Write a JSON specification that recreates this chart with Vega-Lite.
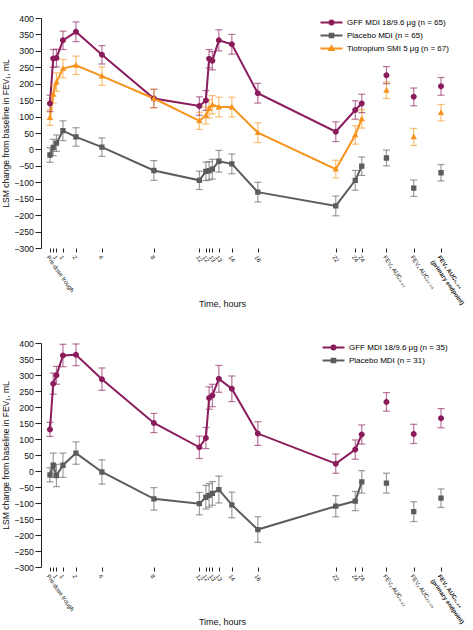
{
  "$schema": "https://vega.github.io/schema/vega-lite/v6.json",
  "padding": {"left": 1, "top": 14, "right": 0, "bottom": 0},
  "spacing": 95,
  "bounds": "flush",
  "config": {
    "view": {"stroke": null},
    "font": "Liberation Sans",
    "axis": {"labelFont": "Liberation Sans", "titleFont": "Liberation Sans", "labelColor": "#111", "titleColor": "#111", "domainColor": "#222", "tickColor": "#222", "grid": false, "titleFontWeight": "normal"},
    "legend": {"labelFont": "Liberation Sans"}
  },
  "resolve": {
    "scale": {"x": "independent", "y": "independent", "color": "independent", "shape": "independent"},
    "legend": {"color": "independent", "shape": "independent"}
  },
  "vconcat": [
    {
      "width": 403,
      "height": 230,
      "data": {"values": [
        {"g":"GFF","t":0,"v":140,"lo":115,"hi":165,"k":"time"},
        {"g":"GFF","t":0.25,"v":277,"lo":250,"hi":304,"k":"time"},
        {"g":"GFF","t":0.5,"v":278,"lo":251,"hi":305,"k":"time"},
        {"g":"GFF","t":1,"v":332,"lo":304,"hi":360,"k":"time"},
        {"g":"GFF","t":2,"v":358,"lo":328,"hi":388,"k":"time"},
        {"g":"GFF","t":4,"v":288,"lo":260,"hi":316,"k":"time"},
        {"g":"GFF","t":8,"v":155,"lo":127,"hi":183,"k":"time"},
        {"g":"GFF","t":11.5,"v":132,"lo":104,"hi":160,"k":"time"},
        {"g":"GFF","t":12,"v":149,"lo":119,"hi":179,"k":"time"},
        {"g":"GFF","t":12.25,"v":276,"lo":248,"hi":304,"k":"time"},
        {"g":"GFF","t":12.5,"v":270,"lo":242,"hi":298,"k":"time"},
        {"g":"GFF","t":13,"v":332,"lo":300,"hi":364,"k":"time"},
        {"g":"GFF","t":14,"v":320,"lo":290,"hi":350,"k":"time"},
        {"g":"GFF","t":16,"v":171,"lo":141,"hi":201,"k":"time"},
        {"g":"GFF","t":22,"v":54,"lo":24,"hi":84,"k":"time"},
        {"g":"GFF","t":23.5,"v":120,"lo":92,"hi":148,"k":"time"},
        {"g":"GFF","t":24,"v":140,"lo":112,"hi":168,"k":"time"},
        {"g":"GFF","t":25.9,"v":226,"lo":200,"hi":252,"k":"auc"},
        {"g":"GFF","t":28,"v":160,"lo":133,"hi":187,"k":"auc"},
        {"g":"GFF","t":30.1,"v":192,"lo":165,"hi":219,"k":"auc"},
        {"g":"Tiotropium","t":0,"v":97,"lo":73,"hi":121,"k":"time"},
        {"g":"Tiotropium","t":0.25,"v":168,"lo":141,"hi":195,"k":"time"},
        {"g":"Tiotropium","t":0.5,"v":205,"lo":177,"hi":233,"k":"time"},
        {"g":"Tiotropium","t":1,"v":246,"lo":218,"hi":274,"k":"time"},
        {"g":"Tiotropium","t":2,"v":256,"lo":228,"hi":284,"k":"time"},
        {"g":"Tiotropium","t":4,"v":223,"lo":195,"hi":251,"k":"time"},
        {"g":"Tiotropium","t":8,"v":155,"lo":127,"hi":183,"k":"time"},
        {"g":"Tiotropium","t":11.5,"v":87,"lo":61,"hi":113,"k":"time"},
        {"g":"Tiotropium","t":12,"v":103,"lo":77,"hi":129,"k":"time"},
        {"g":"Tiotropium","t":12.25,"v":124,"lo":96,"hi":152,"k":"time"},
        {"g":"Tiotropium","t":12.5,"v":136,"lo":108,"hi":164,"k":"time"},
        {"g":"Tiotropium","t":13,"v":129,"lo":99,"hi":159,"k":"time"},
        {"g":"Tiotropium","t":14,"v":129,"lo":99,"hi":159,"k":"time"},
        {"g":"Tiotropium","t":16,"v":51,"lo":21,"hi":81,"k":"time"},
        {"g":"Tiotropium","t":22,"v":-60,"lo":-87,"hi":-33,"k":"time"},
        {"g":"Tiotropium","t":23.5,"v":44,"lo":16,"hi":72,"k":"time"},
        {"g":"Tiotropium","t":24,"v":93,"lo":65,"hi":121,"k":"time"},
        {"g":"Tiotropium","t":25.9,"v":180,"lo":155,"hi":205,"k":"auc"},
        {"g":"Tiotropium","t":28,"v":38,"lo":12,"hi":64,"k":"auc"},
        {"g":"Tiotropium","t":30.1,"v":112,"lo":87,"hi":137,"k":"auc"},
        {"g":"Placebo","t":0,"v":-17,"lo":-39,"hi":5,"k":"time"},
        {"g":"Placebo","t":0.25,"v":6,"lo":-19,"hi":31,"k":"time"},
        {"g":"Placebo","t":0.5,"v":19,"lo":-6,"hi":44,"k":"time"},
        {"g":"Placebo","t":1,"v":57,"lo":27,"hi":87,"k":"time"},
        {"g":"Placebo","t":2,"v":38,"lo":10,"hi":66,"k":"time"},
        {"g":"Placebo","t":4,"v":7,"lo":-21,"hi":35,"k":"time"},
        {"g":"Placebo","t":8,"v":-64,"lo":-94,"hi":-34,"k":"time"},
        {"g":"Placebo","t":11.5,"v":-94,"lo":-122,"hi":-66,"k":"time"},
        {"g":"Placebo","t":12,"v":-67,"lo":-95,"hi":-39,"k":"time"},
        {"g":"Placebo","t":12.25,"v":-65,"lo":-93,"hi":-37,"k":"time"},
        {"g":"Placebo","t":12.5,"v":-60,"lo":-90,"hi":-30,"k":"time"},
        {"g":"Placebo","t":13,"v":-36,"lo":-69,"hi":-3,"k":"time"},
        {"g":"Placebo","t":14,"v":-44,"lo":-74,"hi":-14,"k":"time"},
        {"g":"Placebo","t":16,"v":-130,"lo":-160,"hi":-100,"k":"time"},
        {"g":"Placebo","t":22,"v":-172,"lo":-202,"hi":-142,"k":"time"},
        {"g":"Placebo","t":23.5,"v":-94,"lo":-124,"hi":-64,"k":"time"},
        {"g":"Placebo","t":24,"v":-51,"lo":-79,"hi":-23,"k":"time"},
        {"g":"Placebo","t":25.9,"v":-26,"lo":-50,"hi":-2,"k":"auc"},
        {"g":"Placebo","t":28,"v":-118,"lo":-143,"hi":-93,"k":"auc"},
        {"g":"Placebo","t":30.1,"v":-71,"lo":-96,"hi":-46,"k":"auc"}
      ]},
      "encoding": {
        "x": {"field": "t", "type": "quantitative", "scale": {"domain": [-0.69, 30.33], "nice": false, "zero": false},
          "axis": {"title": "Time, hours", "titleFontSize": 9, "titleX": 181, "titleY": 58, "titleBaseline": "alphabetic", "titleAnchor": "start", "titleAlign": "center",
            "domain": false, "values": [0,0.25,0.5,1,2,4,8,11.5,12,12.25,12.5,13,14,16,22,23.5,24,25.9,28,30.1],
            "labelExpr": "datum.value == 0 ? 'Pre-dose trough' : (datum.value == 0.25 || datum.value == 12.25) ? '' : datum.value == 25.9 ? 'FEV₁ AUC₀₋₁₂' : datum.value == 28 ? 'FEV₁ AUC₁₂₋₂₄' : datum.value > 30 ? ['FEV₁ AUC₀₋₂₄', '(primary endpoint)'] : datum.label",
            "labelAngle": 55, "labelAlign": "left", "labelBaseline": "top", "labelFontSize": 6, "labelPadding": 2, "tickSize": 4, "labelOverlap": false, "labelBound": false,
            "labelFontWeight": {"condition": {"test": "datum.value > 30", "value": "bold"}, "value": "normal"}}},
        "y": {"field": "v", "type": "quantitative", "scale": {"domain": [-300, 400], "nice": false},
          "axis": {"title": "LSM change from baseline in FEV₁, mL", "titleFontSize": 8.5, "titlePadding": 3, "values": [-300,-250,-200,-150,-100,-50,0,50,100,150,200,250,300,350,400], "labelOverlap": false, "labelFontSize": 8.8, "tickSize": 6, "labelPadding": 1.5}}
      },
      "layer": [
        {
          "data": {"values": [{"a": -0.69, "b": 30.33}]},
          "mark": {"type": "rule", "strokeWidth": 1, "color": "#666"},
          "encoding": {"x": {"field": "a", "type": "quantitative", "scale": {"domain": [-0.69, 30.33], "nice": false, "zero": false},
            "axis": {"title": "Time, hours", "titleFontSize": 9, "titleX": 181, "titleY": 58, "titleBaseline": "alphabetic", "titleAnchor": "start", "titleAlign": "center",
            "domain": false, "values": [0,0.25,0.5,1,2,4,8,11.5,12,12.25,12.5,13,14,16,22,23.5,24,25.9,28,30.1],
            "labelExpr": "datum.value == 0 ? 'Pre-dose trough' : (datum.value == 0.25 || datum.value == 12.25) ? '' : datum.value == 25.9 ? 'FEV₁ AUC₀₋₁₂' : datum.value == 28 ? 'FEV₁ AUC₁₂₋₂₄' : datum.value > 30 ? ['FEV₁ AUC₀₋₂₄', '(primary endpoint)'] : datum.label",
            "labelAngle": 55, "labelAlign": "left", "labelBaseline": "top", "labelFontSize": 6, "labelPadding": 2, "tickSize": 4, "labelOverlap": false, "labelBound": false,
            "labelFontWeight": {"condition": {"test": "datum.value > 30", "value": "bold"}, "value": "normal"}}}, "x2": {"field": "b"},
            "y": {"datum": 0, "type": "quantitative", "scale": {"domain": [-300, 400], "nice": false},
            "axis": {"title": "LSM change from baseline in FEV₁, mL", "titleFontSize": 8.5, "titlePadding": 3, "values": [-300,-250,-200,-150,-100,-50,0,50,100,150,200,250,300,350,400], "labelOverlap": false, "labelFontSize": 8.8, "tickSize": 6, "labelPadding": 1.5}}}
        },
        {
          "data": {"values": [{"a": -0.69, "b": 24}, {"a": 25.9, "b": 30.1}]},
          "mark": {"type": "rule", "strokeWidth": 1, "color": "#222"},
          "encoding": {"x": {"field": "a", "type": "quantitative", "scale": {"domain": [-0.69, 30.33], "nice": false, "zero": false},
            "axis": {"title": "Time, hours", "titleFontSize": 9, "titleX": 181, "titleY": 58, "titleBaseline": "alphabetic", "titleAnchor": "start", "titleAlign": "center",
            "domain": false, "values": [0,0.25,0.5,1,2,4,8,11.5,12,12.25,12.5,13,14,16,22,23.5,24,25.9,28,30.1],
            "labelExpr": "datum.value == 0 ? 'Pre-dose trough' : (datum.value == 0.25 || datum.value == 12.25) ? '' : datum.value == 25.9 ? 'FEV₁ AUC₀₋₁₂' : datum.value == 28 ? 'FEV₁ AUC₁₂₋₂₄' : datum.value > 30 ? ['FEV₁ AUC₀₋₂₄', '(primary endpoint)'] : datum.label",
            "labelAngle": 55, "labelAlign": "left", "labelBaseline": "top", "labelFontSize": 6, "labelPadding": 2, "tickSize": 4, "labelOverlap": false, "labelBound": false,
            "labelFontWeight": {"condition": {"test": "datum.value > 30", "value": "bold"}, "value": "normal"}}}, "x2": {"field": "b"},
            "y": {"datum": -300, "type": "quantitative", "scale": {"domain": [-300, 400], "nice": false},
            "axis": {"title": "LSM change from baseline in FEV₁, mL", "titleFontSize": 8.5, "titlePadding": 3, "values": [-300,-250,-200,-150,-100,-50,0,50,100,150,200,250,300,350,400], "labelOverlap": false, "labelFontSize": 8.8, "tickSize": 6, "labelPadding": 1.5}}}
        },
        {
          "data": {"values": [{}]},
          "mark": {"type": "text", "text": "a", "fontSize": 16, "fontWeight": "bold", "font": "Liberation Sans", "align": "left", "baseline": "alphabetic", "color": "#000", "clip": false},
          "encoding": {"x": {"datum": -3.6, "type": "quantitative"}, "y": {"datum": 426, "type": "quantitative"}}
        },
        {
          "transform": [{"filter": "datum.k == 'time'"}],
          "mark": {"type": "line", "strokeWidth": 2},
          "encoding": {"color": {"field": "g", "type": "nominal", "scale": {"domain": ["GFF","Placebo","Tiotropium"], "range": ["#8b1c5b","#5c5c5c","#f7941d"]},
            "legend": {"orient": "none", "legendX": 285, "legendY": -1, "title": null, "labelFontSize": 8, "labelColor": "#000", "symbolSize": 81, "symbolStrokeWidth": 2, "symbolOpacity": 1, "labelOffset": 10, "rowPadding": 0, "padding": 0, "labelLimit": 300,
              "labelExpr": "datum.label == 'GFF' ? 'GFF MDI 18/9.6 μg (n = 65)' : datum.label == 'Placebo' ? 'Placebo MDI (n = 65)' : 'Tiotropium SMI 5 μg (n = 67)'"}}}
        },
        {
          "mark": {"type": "rule", "strokeWidth": 1.2, "opacity": 0.6},
          "encoding": {"y": {"field": "lo", "type": "quantitative", "scale": {"domain": [-300, 400], "nice": false},
            "axis": {"title": "LSM change from baseline in FEV₁, mL", "titleFontSize": 8.5, "titlePadding": 3, "values": [-300,-250,-200,-150,-100,-50,0,50,100,150,200,250,300,350,400], "labelOverlap": false, "labelFontSize": 8.8, "tickSize": 6, "labelPadding": 1.5}}, "y2": {"field": "hi"},
            "color": {"field": "g", "type": "nominal", "scale": {"domain": ["GFF","Placebo","Tiotropium"], "range": ["#8b1c5b","#5c5c5c","#f7941d"]},
            "legend": {"orient": "none", "legendX": 285, "legendY": -1, "title": null, "labelFontSize": 8, "labelColor": "#000", "symbolSize": 81, "symbolStrokeWidth": 2, "symbolOpacity": 1, "labelOffset": 10, "rowPadding": 0, "padding": 0, "labelLimit": 300,
              "labelExpr": "datum.label == 'GFF' ? 'GFF MDI 18/9.6 μg (n = 65)' : datum.label == 'Placebo' ? 'Placebo MDI (n = 65)' : 'Tiotropium SMI 5 μg (n = 67)'"}}}
        },
        {
          "mark": {"type": "tick", "orient": "horizontal", "size": 7, "thickness": 1.2, "opacity": 0.6},
          "encoding": {"y": {"field": "lo", "type": "quantitative", "scale": {"domain": [-300, 400], "nice": false},
            "axis": {"title": "LSM change from baseline in FEV₁, mL", "titleFontSize": 8.5, "titlePadding": 3, "values": [-300,-250,-200,-150,-100,-50,0,50,100,150,200,250,300,350,400], "labelOverlap": false, "labelFontSize": 8.8, "tickSize": 6, "labelPadding": 1.5}},
            "color": {"field": "g", "type": "nominal", "scale": {"domain": ["GFF","Placebo","Tiotropium"], "range": ["#8b1c5b","#5c5c5c","#f7941d"]},
            "legend": {"orient": "none", "legendX": 285, "legendY": -1, "title": null, "labelFontSize": 8, "labelColor": "#000", "symbolSize": 81, "symbolStrokeWidth": 2, "symbolOpacity": 1, "labelOffset": 10, "rowPadding": 0, "padding": 0, "labelLimit": 300,
              "labelExpr": "datum.label == 'GFF' ? 'GFF MDI 18/9.6 μg (n = 65)' : datum.label == 'Placebo' ? 'Placebo MDI (n = 65)' : 'Tiotropium SMI 5 μg (n = 67)'"}}}
        },
        {
          "mark": {"type": "tick", "orient": "horizontal", "size": 7, "thickness": 1.2, "opacity": 0.6},
          "encoding": {"y": {"field": "hi", "type": "quantitative", "scale": {"domain": [-300, 400], "nice": false},
            "axis": {"title": "LSM change from baseline in FEV₁, mL", "titleFontSize": 8.5, "titlePadding": 3, "values": [-300,-250,-200,-150,-100,-50,0,50,100,150,200,250,300,350,400], "labelOverlap": false, "labelFontSize": 8.8, "tickSize": 6, "labelPadding": 1.5}},
            "color": {"field": "g", "type": "nominal", "scale": {"domain": ["GFF","Placebo","Tiotropium"], "range": ["#8b1c5b","#5c5c5c","#f7941d"]},
            "legend": {"orient": "none", "legendX": 285, "legendY": -1, "title": null, "labelFontSize": 8, "labelColor": "#000", "symbolSize": 81, "symbolStrokeWidth": 2, "symbolOpacity": 1, "labelOffset": 10, "rowPadding": 0, "padding": 0, "labelLimit": 300,
              "labelExpr": "datum.label == 'GFF' ? 'GFF MDI 18/9.6 μg (n = 65)' : datum.label == 'Placebo' ? 'Placebo MDI (n = 65)' : 'Tiotropium SMI 5 μg (n = 67)'"}}}
        },
        {
          "mark": {"type": "point", "filled": true, "size": 178, "opacity": 1},
          "encoding": {"color": {"field": "g", "type": "nominal", "scale": {"domain": ["GFF","Placebo","Tiotropium"], "range": ["#8b1c5b","#5c5c5c","#f7941d"]},
            "legend": {"orient": "none", "legendX": 285, "legendY": -1, "title": null, "labelFontSize": 8, "labelColor": "#000", "symbolSize": 81, "symbolStrokeWidth": 2, "symbolOpacity": 1, "labelOffset": 10, "rowPadding": 0, "padding": 0, "labelLimit": 300,
              "labelExpr": "datum.label == 'GFF' ? 'GFF MDI 18/9.6 μg (n = 65)' : datum.label == 'Placebo' ? 'Placebo MDI (n = 65)' : 'Tiotropium SMI 5 μg (n = 67)'"}},
            "shape": {"field": "g", "type": "nominal", "scale": {"domain": ["GFF","Placebo","Tiotropium"], "range": ["M-2.44,0H2.44M0.45,0A0.45,0.45,0,1,1,-0.45,0A0.45,0.45,0,1,1,0.45,0Z", "M-2.44,0H2.44M-0.4,-0.4H0.4V0.4H-0.4Z", "M-2.44,0H2.44M0,-0.5L0.48,0.36H-0.48Z"]}, "legend": null}}
        },
        {
          "data": {"values": [{"t": -0.28, "g": "GFF"}, {"t": 0, "g": "Placebo"}, {"t": 0.25, "g": "Tiotropium"}, {"t": 11.92, "g": "GFF"}, {"t": 12.18, "g": "Placebo"}]},
          "mark": {"type": "rule", "strokeWidth": 1.2, "opacity": 0.85, "clip": false},
          "encoding": {"y": {"datum": -436, "type": "quantitative", "scale": {"domain": [-300, 400], "nice": false},
            "axis": {"title": "LSM change from baseline in FEV₁, mL", "titleFontSize": 8.5, "titlePadding": 3, "values": [-300,-250,-200,-150,-100,-50,0,50,100,150,200,250,300,350,400], "labelOverlap": false, "labelFontSize": 8.8, "tickSize": 6, "labelPadding": 1.5}}, "y2": {"datum": -398},
            "color": {"field": "g", "type": "nominal", "scale": {"domain": ["GFF","Placebo","Tiotropium"], "range": ["#8b1c5b","#5c5c5c","#f7941d"]},
            "legend": {"orient": "none", "legendX": 285, "legendY": -1, "title": null, "labelFontSize": 8, "labelColor": "#000", "symbolSize": 81, "symbolStrokeWidth": 2, "symbolOpacity": 1, "labelOffset": 10, "rowPadding": 0, "padding": 0, "labelLimit": 300,
              "labelExpr": "datum.label == 'GFF' ? 'GFF MDI 18/9.6 μg (n = 65)' : datum.label == 'Placebo' ? 'Placebo MDI (n = 65)' : 'Tiotropium SMI 5 μg (n = 67)'"}}}
        },
        {
          "data": {"values": [{"t": 0}, {"t": 12}]},
          "mark": {"type": "text", "text": "Y", "angle": 180, "fontSize": 17, "font": "Liberation Sans", "baseline": "middle", "align": "center", "color": "#222", "clip": false},
          "encoding": {"y": {"datum": -384, "type": "quantitative", "scale": {"domain": [-300, 400], "nice": false},
            "axis": {"title": "LSM change from baseline in FEV₁, mL", "titleFontSize": 8.5, "titlePadding": 3, "values": [-300,-250,-200,-150,-100,-50,0,50,100,150,200,250,300,350,400], "labelOverlap": false, "labelFontSize": 8.8, "tickSize": 6, "labelPadding": 1.5}}}
        }
      ]
    },
    {
      "width": 403,
      "height": 224,
      "data": {"values": [
        {"g":"GFF","t":0,"v":130,"lo":108,"hi":152,"k":"time"},
        {"g":"GFF","t":0.25,"v":273,"lo":240,"hi":306,"k":"time"},
        {"g":"GFF","t":0.5,"v":299,"lo":271,"hi":327,"k":"time"},
        {"g":"GFF","t":1,"v":361,"lo":326,"hi":396,"k":"time"},
        {"g":"GFF","t":2,"v":363,"lo":329,"hi":397,"k":"time"},
        {"g":"GFF","t":4,"v":287,"lo":252,"hi":322,"k":"time"},
        {"g":"GFF","t":8,"v":150,"lo":120,"hi":180,"k":"time"},
        {"g":"GFF","t":11.5,"v":74,"lo":39,"hi":109,"k":"time"},
        {"g":"GFF","t":12,"v":103,"lo":70,"hi":136,"k":"time"},
        {"g":"GFF","t":12.25,"v":228,"lo":193,"hi":263,"k":"time"},
        {"g":"GFF","t":12.5,"v":236,"lo":201,"hi":271,"k":"time"},
        {"g":"GFF","t":13,"v":288,"lo":246,"hi":330,"k":"time"},
        {"g":"GFF","t":14,"v":257,"lo":217,"hi":297,"k":"time"},
        {"g":"GFF","t":16,"v":117,"lo":80,"hi":154,"k":"time"},
        {"g":"GFF","t":22,"v":23,"lo":-7,"hi":53,"k":"time"},
        {"g":"GFF","t":23.5,"v":67,"lo":37,"hi":97,"k":"time"},
        {"g":"GFF","t":24,"v":114,"lo":84,"hi":144,"k":"time"},
        {"g":"GFF","t":25.9,"v":216,"lo":187,"hi":245,"k":"auc"},
        {"g":"GFF","t":28,"v":116,"lo":86,"hi":146,"k":"auc"},
        {"g":"GFF","t":30.1,"v":165,"lo":135,"hi":195,"k":"auc"},
        {"g":"Placebo","t":0,"v":-12,"lo":-34,"hi":10,"k":"time"},
        {"g":"Placebo","t":0.25,"v":18,"lo":-20,"hi":56,"k":"time"},
        {"g":"Placebo","t":0.5,"v":-14,"lo":-49,"hi":21,"k":"time"},
        {"g":"Placebo","t":1,"v":18,"lo":-20,"hi":56,"k":"time"},
        {"g":"Placebo","t":2,"v":56,"lo":21,"hi":91,"k":"time"},
        {"g":"Placebo","t":4,"v":-3,"lo":-41,"hi":35,"k":"time"},
        {"g":"Placebo","t":8,"v":-87,"lo":-122,"hi":-52,"k":"time"},
        {"g":"Placebo","t":11.5,"v":-102,"lo":-137,"hi":-67,"k":"time"},
        {"g":"Placebo","t":12,"v":-82,"lo":-119,"hi":-45,"k":"time"},
        {"g":"Placebo","t":12.25,"v":-76,"lo":-113,"hi":-39,"k":"time"},
        {"g":"Placebo","t":12.5,"v":-70,"lo":-107,"hi":-33,"k":"time"},
        {"g":"Placebo","t":13,"v":-58,"lo":-100,"hi":-16,"k":"time"},
        {"g":"Placebo","t":14,"v":-106,"lo":-146,"hi":-66,"k":"time"},
        {"g":"Placebo","t":16,"v":-183,"lo":-223,"hi":-143,"k":"time"},
        {"g":"Placebo","t":22,"v":-110,"lo":-143,"hi":-77,"k":"time"},
        {"g":"Placebo","t":23.5,"v":-94,"lo":-124,"hi":-64,"k":"time"},
        {"g":"Placebo","t":24,"v":-34,"lo":-69,"hi":1,"k":"time"},
        {"g":"Placebo","t":25.9,"v":-38,"lo":-69,"hi":-7,"k":"auc"},
        {"g":"Placebo","t":28,"v":-127,"lo":-158,"hi":-96,"k":"auc"},
        {"g":"Placebo","t":30.1,"v":-85,"lo":-114,"hi":-56,"k":"auc"}
      ]},
      "encoding": {
        "x": {"field": "t", "type": "quantitative", "scale": {"domain": [-0.69, 30.33], "nice": false, "zero": false},
          "axis": {"title": "Time, hours", "titleFontSize": 9, "titleX": 181, "titleY": 57, "titleBaseline": "alphabetic", "titleAnchor": "start", "titleAlign": "center",
            "domain": false, "values": [0,0.25,0.5,1,2,4,8,11.5,12,12.25,12.5,13,14,16,22,23.5,24,25.9,28,30.1],
            "labelExpr": "datum.value == 0 ? 'Pre-dose trough' : (datum.value == 0.25 || datum.value == 12.25) ? '' : datum.value == 25.9 ? 'FEV₁ AUC₀₋₁₂' : datum.value == 28 ? 'FEV₁ AUC₁₂₋₂₄' : datum.value > 30 ? ['FEV₁ AUC₀₋₂₄', '(primary endpoint)'] : datum.label",
            "labelAngle": 55, "labelAlign": "left", "labelBaseline": "top", "labelFontSize": 6, "labelPadding": 2, "tickSize": 4, "labelOverlap": false, "labelBound": false,
            "labelFontWeight": {"condition": {"test": "datum.value > 30", "value": "bold"}, "value": "normal"}}},
        "y": {"field": "v", "type": "quantitative", "scale": {"domain": [-300, 400], "nice": false},
          "axis": {"title": "LSM change from baseline in FEV₁, mL", "titleFontSize": 8.5, "titlePadding": 3, "values": [-300,-250,-200,-150,-100,-50,0,50,100,150,200,250,300,350,400], "labelOverlap": false, "labelFontSize": 8.8, "tickSize": 6, "labelPadding": 1.5}}
      },
      "layer": [
        {
          "data": {"values": [{"a": -0.69, "b": 30.33}]},
          "mark": {"type": "rule", "strokeWidth": 1, "color": "#222"},
          "encoding": {"x": {"field": "a", "type": "quantitative", "scale": {"domain": [-0.69, 30.33], "nice": false, "zero": false},
            "axis": {"title": "Time, hours", "titleFontSize": 9, "titleX": 181, "titleY": 57, "titleBaseline": "alphabetic", "titleAnchor": "start", "titleAlign": "center",
            "domain": false, "values": [0,0.25,0.5,1,2,4,8,11.5,12,12.25,12.5,13,14,16,22,23.5,24,25.9,28,30.1],
            "labelExpr": "datum.value == 0 ? 'Pre-dose trough' : (datum.value == 0.25 || datum.value == 12.25) ? '' : datum.value == 25.9 ? 'FEV₁ AUC₀₋₁₂' : datum.value == 28 ? 'FEV₁ AUC₁₂₋₂₄' : datum.value > 30 ? ['FEV₁ AUC₀₋₂₄', '(primary endpoint)'] : datum.label",
            "labelAngle": 55, "labelAlign": "left", "labelBaseline": "top", "labelFontSize": 6, "labelPadding": 2, "tickSize": 4, "labelOverlap": false, "labelBound": false,
            "labelFontWeight": {"condition": {"test": "datum.value > 30", "value": "bold"}, "value": "normal"}}}, "x2": {"field": "b"},
            "y": {"datum": 0, "type": "quantitative", "scale": {"domain": [-300, 400], "nice": false},
            "axis": {"title": "LSM change from baseline in FEV₁, mL", "titleFontSize": 8.5, "titlePadding": 3, "values": [-300,-250,-200,-150,-100,-50,0,50,100,150,200,250,300,350,400], "labelOverlap": false, "labelFontSize": 8.8, "tickSize": 6, "labelPadding": 1.5}}}
        },
        {
          "data": {"values": [{"a": -0.69, "b": 24}, {"a": 25.9, "b": 30.1}]},
          "mark": {"type": "rule", "strokeWidth": 1, "color": "#222"},
          "encoding": {"x": {"field": "a", "type": "quantitative", "scale": {"domain": [-0.69, 30.33], "nice": false, "zero": false},
            "axis": {"title": "Time, hours", "titleFontSize": 9, "titleX": 181, "titleY": 57, "titleBaseline": "alphabetic", "titleAnchor": "start", "titleAlign": "center",
            "domain": false, "values": [0,0.25,0.5,1,2,4,8,11.5,12,12.25,12.5,13,14,16,22,23.5,24,25.9,28,30.1],
            "labelExpr": "datum.value == 0 ? 'Pre-dose trough' : (datum.value == 0.25 || datum.value == 12.25) ? '' : datum.value == 25.9 ? 'FEV₁ AUC₀₋₁₂' : datum.value == 28 ? 'FEV₁ AUC₁₂₋₂₄' : datum.value > 30 ? ['FEV₁ AUC₀₋₂₄', '(primary endpoint)'] : datum.label",
            "labelAngle": 55, "labelAlign": "left", "labelBaseline": "top", "labelFontSize": 6, "labelPadding": 2, "tickSize": 4, "labelOverlap": false, "labelBound": false,
            "labelFontWeight": {"condition": {"test": "datum.value > 30", "value": "bold"}, "value": "normal"}}}, "x2": {"field": "b"},
            "y": {"datum": -300, "type": "quantitative", "scale": {"domain": [-300, 400], "nice": false},
            "axis": {"title": "LSM change from baseline in FEV₁, mL", "titleFontSize": 8.5, "titlePadding": 3, "values": [-300,-250,-200,-150,-100,-50,0,50,100,150,200,250,300,350,400], "labelOverlap": false, "labelFontSize": 8.8, "tickSize": 6, "labelPadding": 1.5}}}
        },
        {
          "data": {"values": [{}]},
          "mark": {"type": "text", "text": "b", "fontSize": 16, "fontWeight": "bold", "font": "Liberation Sans", "align": "left", "baseline": "alphabetic", "color": "#000", "clip": false},
          "encoding": {"x": {"datum": -3.6, "type": "quantitative"}, "y": {"datum": 429, "type": "quantitative"}}
        },
        {
          "transform": [{"filter": "datum.k == 'time'"}],
          "mark": {"type": "line", "strokeWidth": 2},
          "encoding": {"color": {"field": "g", "type": "nominal", "scale": {"domain": ["GFF","Placebo"], "range": ["#8b1c5b","#5c5c5c"]},
            "legend": {"orient": "none", "legendX": 287, "legendY": -1, "title": null, "labelFontSize": 8, "labelColor": "#000", "symbolSize": 81, "symbolStrokeWidth": 2, "symbolOpacity": 1, "labelOffset": 10, "rowPadding": 0, "padding": 0, "labelLimit": 300,
              "labelExpr": "datum.label == 'GFF' ? 'GFF MDI 18/9.6 μg (n = 35)' : 'Placebo MDI (n = 31)'"}}}
        },
        {
          "mark": {"type": "rule", "strokeWidth": 1.2, "opacity": 0.6},
          "encoding": {"y": {"field": "lo", "type": "quantitative", "scale": {"domain": [-300, 400], "nice": false},
            "axis": {"title": "LSM change from baseline in FEV₁, mL", "titleFontSize": 8.5, "titlePadding": 3, "values": [-300,-250,-200,-150,-100,-50,0,50,100,150,200,250,300,350,400], "labelOverlap": false, "labelFontSize": 8.8, "tickSize": 6, "labelPadding": 1.5}}, "y2": {"field": "hi"},
            "color": {"field": "g", "type": "nominal", "scale": {"domain": ["GFF","Placebo"], "range": ["#8b1c5b","#5c5c5c"]},
            "legend": {"orient": "none", "legendX": 287, "legendY": -1, "title": null, "labelFontSize": 8, "labelColor": "#000", "symbolSize": 81, "symbolStrokeWidth": 2, "symbolOpacity": 1, "labelOffset": 10, "rowPadding": 0, "padding": 0, "labelLimit": 300,
              "labelExpr": "datum.label == 'GFF' ? 'GFF MDI 18/9.6 μg (n = 35)' : 'Placebo MDI (n = 31)'"}}}
        },
        {
          "mark": {"type": "tick", "orient": "horizontal", "size": 7, "thickness": 1.2, "opacity": 0.6},
          "encoding": {"y": {"field": "lo", "type": "quantitative", "scale": {"domain": [-300, 400], "nice": false},
            "axis": {"title": "LSM change from baseline in FEV₁, mL", "titleFontSize": 8.5, "titlePadding": 3, "values": [-300,-250,-200,-150,-100,-50,0,50,100,150,200,250,300,350,400], "labelOverlap": false, "labelFontSize": 8.8, "tickSize": 6, "labelPadding": 1.5}},
            "color": {"field": "g", "type": "nominal", "scale": {"domain": ["GFF","Placebo"], "range": ["#8b1c5b","#5c5c5c"]},
            "legend": {"orient": "none", "legendX": 287, "legendY": -1, "title": null, "labelFontSize": 8, "labelColor": "#000", "symbolSize": 81, "symbolStrokeWidth": 2, "symbolOpacity": 1, "labelOffset": 10, "rowPadding": 0, "padding": 0, "labelLimit": 300,
              "labelExpr": "datum.label == 'GFF' ? 'GFF MDI 18/9.6 μg (n = 35)' : 'Placebo MDI (n = 31)'"}}}
        },
        {
          "mark": {"type": "tick", "orient": "horizontal", "size": 7, "thickness": 1.2, "opacity": 0.6},
          "encoding": {"y": {"field": "hi", "type": "quantitative", "scale": {"domain": [-300, 400], "nice": false},
            "axis": {"title": "LSM change from baseline in FEV₁, mL", "titleFontSize": 8.5, "titlePadding": 3, "values": [-300,-250,-200,-150,-100,-50,0,50,100,150,200,250,300,350,400], "labelOverlap": false, "labelFontSize": 8.8, "tickSize": 6, "labelPadding": 1.5}},
            "color": {"field": "g", "type": "nominal", "scale": {"domain": ["GFF","Placebo"], "range": ["#8b1c5b","#5c5c5c"]},
            "legend": {"orient": "none", "legendX": 287, "legendY": -1, "title": null, "labelFontSize": 8, "labelColor": "#000", "symbolSize": 81, "symbolStrokeWidth": 2, "symbolOpacity": 1, "labelOffset": 10, "rowPadding": 0, "padding": 0, "labelLimit": 300,
              "labelExpr": "datum.label == 'GFF' ? 'GFF MDI 18/9.6 μg (n = 35)' : 'Placebo MDI (n = 31)'"}}}
        },
        {
          "mark": {"type": "point", "filled": true, "size": 178, "opacity": 1},
          "encoding": {"color": {"field": "g", "type": "nominal", "scale": {"domain": ["GFF","Placebo"], "range": ["#8b1c5b","#5c5c5c"]},
            "legend": {"orient": "none", "legendX": 287, "legendY": -1, "title": null, "labelFontSize": 8, "labelColor": "#000", "symbolSize": 81, "symbolStrokeWidth": 2, "symbolOpacity": 1, "labelOffset": 10, "rowPadding": 0, "padding": 0, "labelLimit": 300,
              "labelExpr": "datum.label == 'GFF' ? 'GFF MDI 18/9.6 μg (n = 35)' : 'Placebo MDI (n = 31)'"}},
            "shape": {"field": "g", "type": "nominal", "scale": {"domain": ["GFF","Placebo"], "range": ["M-2.44,0H2.44M0.45,0A0.45,0.45,0,1,1,-0.45,0A0.45,0.45,0,1,1,0.45,0Z", "M-2.44,0H2.44M-0.4,-0.4H0.4V0.4H-0.4Z"]}, "legend": null}}
        },
        {
          "data": {"values": [{"t": -0.1, "g": "GFF"}, {"t": 0.13, "g": "Placebo"}, {"t": 11.92, "g": "GFF"}, {"t": 12.18, "g": "Placebo"}]},
          "mark": {"type": "rule", "strokeWidth": 1.2, "opacity": 0.85, "clip": false},
          "encoding": {"y": {"datum": -443, "type": "quantitative", "scale": {"domain": [-300, 400], "nice": false},
            "axis": {"title": "LSM change from baseline in FEV₁, mL", "titleFontSize": 8.5, "titlePadding": 3, "values": [-300,-250,-200,-150,-100,-50,0,50,100,150,200,250,300,350,400], "labelOverlap": false, "labelFontSize": 8.8, "tickSize": 6, "labelPadding": 1.5}}, "y2": {"datum": -408},
            "color": {"field": "g", "type": "nominal", "scale": {"domain": ["GFF","Placebo"], "range": ["#8b1c5b","#5c5c5c"]},
            "legend": {"orient": "none", "legendX": 287, "legendY": -1, "title": null, "labelFontSize": 8, "labelColor": "#000", "symbolSize": 81, "symbolStrokeWidth": 2, "symbolOpacity": 1, "labelOffset": 10, "rowPadding": 0, "padding": 0, "labelLimit": 300,
              "labelExpr": "datum.label == 'GFF' ? 'GFF MDI 18/9.6 μg (n = 35)' : 'Placebo MDI (n = 31)'"}}}
        },
        {
          "data": {"values": [{"t": 0}, {"t": 12}]},
          "mark": {"type": "text", "text": "Y", "angle": 180, "fontSize": 17, "font": "Liberation Sans", "baseline": "middle", "align": "center", "color": "#222", "clip": false},
          "encoding": {"y": {"datum": -404, "type": "quantitative", "scale": {"domain": [-300, 400], "nice": false},
            "axis": {"title": "LSM change from baseline in FEV₁, mL", "titleFontSize": 8.5, "titlePadding": 3, "values": [-300,-250,-200,-150,-100,-50,0,50,100,150,200,250,300,350,400], "labelOverlap": false, "labelFontSize": 8.8, "tickSize": 6, "labelPadding": 1.5}}}
        }
      ]
    }
  ]
}
